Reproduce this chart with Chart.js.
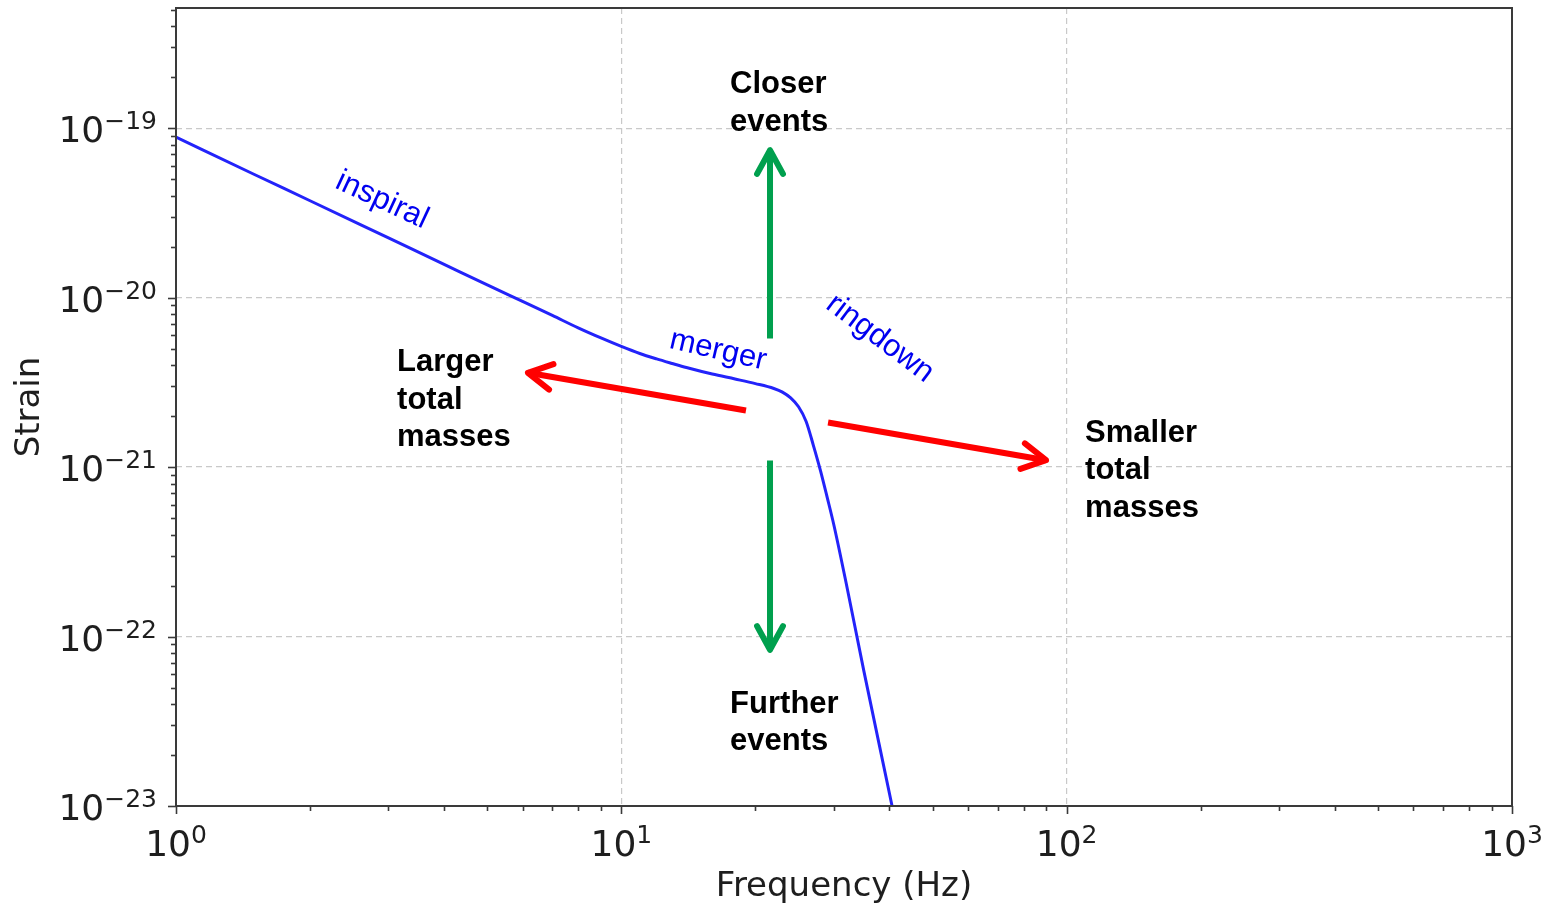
<!DOCTYPE html>
<html><head><meta charset="utf-8">
<script src="https://cdn.jsdelivr.net/npm/chart.js@4/dist/chart.umd.min.js"></script>
<style>html,body{margin:0;padding:0;background:#fff;overflow:hidden}canvas{display:block}</style>
</head><body>
<canvas id="c" width="1552" height="912"></canvas>
<script>
// ---- data ----
const frequency = [1, 1.5, 2, 3, 4, 5, 6, 7, 8, 9, 10, 11, 12, 13, 14, 16, 18, 20, 22, 23, 24, 25, 26, 27, 28, 29, 30, 32, 35, 40, 42];
const strain = [8.85e-20, 5.33e-20, 3.73e-20, 2.25e-20, 1.572e-20, 1.19e-20, 9.50e-21, 7.85e-21, 6.63e-21, 5.78e-21,
  5.15e-21, 4.68e-21, 4.35e-21, 4.09e-21, 3.87e-21, 3.54e-21, 3.31e-21, 3.11e-21, 2.91e-21, 2.77e-21,
  2.56e-21, 2.27e-21, 1.86e-21, 1.34e-21, 9.53e-22, 6.60e-22, 4.57e-22, 2.05e-22, 6.36e-23, 1.186e-23, 6.38e-24];
const xMajorTicks = [1, 10, 100, 1000];
const xTickLabels = [['10', '0'], ['10', '1'], ['10', '2'], ['10', '3']];
const yMajorTicks = [1e-23, 1e-22, 1e-21, 1e-20, 1e-19];
const yTickLabels = [['10', '\u221223'], ['10', '\u221222'], ['10', '\u221221'], ['10', '\u221220'], ['10', '\u221219']];
const xRange = [1, 1000];
const yRange = [1e-23, 5.12e-19];

// annotation anchors in data coordinates (frequency, strain)
const phaseLabels = [
  {text: 'inspiral', f: 2.901, h: 3.755e-20, angle: 25},
  {text: 'merger', f: 16.49, h: 4.88e-21, angle: 13},
  {text: 'ringdown', f: 38.09, h: 5.74e-21, angle: 37}
];
const noteLabels = [
  {lines: ['Closer', 'events'], f: 17.55, h: 1.61e-19},
  {lines: ['Further', 'events'], f: 17.55, h: 3.54e-23},
  {lines: ['Larger', 'total', 'masses'], f: 3.136, h: 3.67e-21},
  {lines: ['Smaller', 'total', 'masses'], f: 110, h: 1.414e-21}
];
const arrowsGreen = [
  {from: [21.57, 5.74e-21], to: [21.57, 7.62e-20]},
  {from: [21.57, 1.093e-21], to: [21.57, 8.13e-23]}
];
const arrowsRed = [
  {from: [19.05, 2.157e-21], to: [6.107, 3.617e-21]},
  {from: [29.12, 1.832e-21], to: [90.8, 1.093e-21]}
];

// ---- helpers ----
function near(a, b) { return Math.abs(Math.log10(a) - Math.log10(b)) < 1e-6; }
function majorIndex(list, v) { for (let i = 0; i < list.length; i++) if (near(list[i], v)) return i; return -1; }
function tickList(majors, max) {
  const out = [];
  for (let i = 0; i < majors.length; i++) {
    const base = majors[i];
    out.push(base);
    for (let m = 2; m <= 9; m++) { const v = m * base; if (v <= max * 1.0001) out.push(v); }
  }
  return out.filter(v => v <= max * 1.0001);
}
const xTicks = tickList(xMajorTicks, xRange[1]);
const yTicks = tickList(yMajorTicks, yRange[1]);

const points = frequency.map((f, i) => ({x: f, y: strain[i]}));
const AXIS = '#3a3a3a';
const LABEL = '#1e1e1e';
const BIG = '36px "DejaVu Sans"', SUP = '25px "DejaVu Sans"';

const framePlugin = {
  id: 'frame',
  afterDatasetsDraw(chart) {
    const {ctx, chartArea: a, scales: {x, y}} = chart;
    ctx.save();
    ctx.strokeStyle = AXIS;
    ctx.lineWidth = 1.6;
    for (const t of x.ticks) {
      const px = Math.round(x.getPixelForValue(t.value)) + 0.5;
      const len = majorIndex(xMajorTicks, t.value) >= 0 ? 8 : 5;
      ctx.beginPath(); ctx.moveTo(px, a.bottom); ctx.lineTo(px, a.bottom + len); ctx.stroke();
    }
    for (const t of y.ticks) {
      const py = Math.round(y.getPixelForValue(t.value)) + 0.5;
      const len = majorIndex(yMajorTicks, t.value) >= 0 ? 8 : 5;
      ctx.beginPath(); ctx.moveTo(a.left, py); ctx.lineTo(a.left - len, py); ctx.stroke();
    }
    ctx.lineWidth = 2;
    ctx.strokeRect(a.left, a.top, a.right - a.left, a.bottom - a.top);

    // tick labels: base with raised exponent
    ctx.fillStyle = LABEL;
    ctx.textBaseline = 'alphabetic';
    ctx.textAlign = 'left';
    xMajorTicks.forEach((v, i) => {
      const [b, e] = xTickLabels[i];
      ctx.font = BIG; const wb = ctx.measureText(b).width;
      ctx.font = SUP; const we = ctx.measureText(e).width;
      const px = x.getPixelForValue(v) - (wb + we) / 2;
      ctx.font = BIG; ctx.fillText(b, px, a.bottom + 50);
      ctx.font = SUP; ctx.fillText(e, px + wb, a.bottom + 37);
    });
    yMajorTicks.forEach((v, i) => {
      const [b, e] = yTickLabels[i];
      ctx.font = BIG; const wb = ctx.measureText(b).width;
      ctx.font = SUP; const we = ctx.measureText(e).width;
      const py = y.getPixelForValue(v);
      const right = a.left - 19;
      ctx.font = SUP; ctx.fillText(e, right - we, py + 1);
      ctx.font = BIG; ctx.fillText(b, right - we - wb, py + 14);
    });
    ctx.restore();
  }
};

function drawArrow(ctx, x1, y1, x2, y2, color) {
  ctx.strokeStyle = color;
  ctx.lineWidth = 6;
  ctx.lineCap = 'butt';
  const ang = Math.atan2(y2 - y1, x2 - x1);
  const tx = x2 - 2 * Math.cos(ang), ty = y2 - 2 * Math.sin(ang);
  ctx.beginPath(); ctx.moveTo(x1, y1); ctx.lineTo(tx, ty); ctx.stroke();
  const L = 27, w = 0.5;
  ctx.lineJoin = 'round'; ctx.lineCap = 'round';
  ctx.beginPath();
  ctx.moveTo(tx - L * Math.cos(ang - w), ty - L * Math.sin(ang - w));
  ctx.lineTo(tx, ty);
  ctx.lineTo(tx - L * Math.cos(ang + w), ty - L * Math.sin(ang + w));
  ctx.stroke();
}

const annotPlugin = {
  id: 'annot',
  afterDraw(chart) {
    const {ctx, scales: {x, y}} = chart;
    ctx.save();
    for (const a of arrowsGreen) drawArrow(ctx, x.getPixelForValue(a.from[0]), y.getPixelForValue(a.from[1]), x.getPixelForValue(a.to[0]), y.getPixelForValue(a.to[1]), '#00a04e');
    for (const a of arrowsRed) drawArrow(ctx, x.getPixelForValue(a.from[0]), y.getPixelForValue(a.from[1]), x.getPixelForValue(a.to[0]), y.getPixelForValue(a.to[1]), '#ff0000');
    ctx.fillStyle = '#0000f0';
    ctx.font = '31px "Liberation Sans", Arial, sans-serif';
    ctx.textAlign = 'center'; ctx.textBaseline = 'middle';
    for (const t of phaseLabels) {
      ctx.save();
      ctx.translate(x.getPixelForValue(t.f), y.getPixelForValue(t.h));
      ctx.rotate(t.angle * Math.PI / 180);
      ctx.fillText(t.text, 0, 0);
      ctx.restore();
    }
    ctx.fillStyle = '#000';
    ctx.font = 'bold 31px "Liberation Sans", Arial, sans-serif';
    ctx.textAlign = 'left'; ctx.textBaseline = 'alphabetic';
    for (const t of noteLabels) {
      const px = x.getPixelForValue(t.f), py = y.getPixelForValue(t.h);
      t.lines.forEach((s, i) => ctx.fillText(s, px, py + i * 37.5));
    }
    ctx.restore();
  }
};

new Chart(document.getElementById('c'), {
  type: 'scatter',
  data: {
    datasets: [{
      data: points,
      showLine: true,
      borderColor: 'rgb(35,35,250)',
      borderWidth: 3,
      pointRadius: 0,
      cubicInterpolationMode: 'monotone',
      fill: false
    }]
  },
  options: {
    responsive: false,
    animation: false,
    devicePixelRatio: 1,
    layout: {padding: {left: 0, right: 40, top: 8, bottom: 0}},
    plugins: {legend: {display: false}, tooltip: {enabled: false}},
    scales: {
      x: {
        type: 'logarithmic', min: xRange[0], max: xRange[1],
        afterBuildTicks: s => { s.ticks = xTicks.map(v => ({value: v, major: majorIndex(xMajorTicks, v) >= 0})); },
        afterFit: s => { s.height = 106; s.paddingLeft = 0; s.paddingRight = 0; },
        ticks: {display: false, autoSkip: false},
        grid: {drawTicks: false, lineWidth: 1.2, color: c => (c.tick && majorIndex(xMajorTicks, c.tick.value) >= 0) ? '#c9c9c9' : 'rgba(0,0,0,0)'},
        border: {display: false, dash: [6, 4]},
        title: {display: true, text: 'Frequency (Hz)', color: LABEL, font: {family: '"DejaVu Sans"', size: 34}, padding: {top: 0, bottom: 4}}
      },
      y: {
        type: 'logarithmic', min: yRange[0], max: yRange[1],
        afterBuildTicks: s => { s.ticks = yTicks.map(v => ({value: v, major: majorIndex(yMajorTicks, v) >= 0})); },
        afterFit: s => { s.width = 176; s.paddingTop = 0; s.paddingBottom = 0; },
        ticks: {display: false, autoSkip: false},
        grid: {drawTicks: false, lineWidth: 1.2, color: c => (c.tick && majorIndex(yMajorTicks, c.tick.value) >= 0) ? '#c9c9c9' : 'rgba(0,0,0,0)'},
        border: {display: false, dash: [6, 4]},
        title: {display: true, text: 'Strain', color: LABEL, font: {family: '"DejaVu Sans"', size: 34}, padding: {top: 10, bottom: 0}}
      }
    }
  },
  plugins: [framePlugin, annotPlugin]
});
</script>
</body></html>
